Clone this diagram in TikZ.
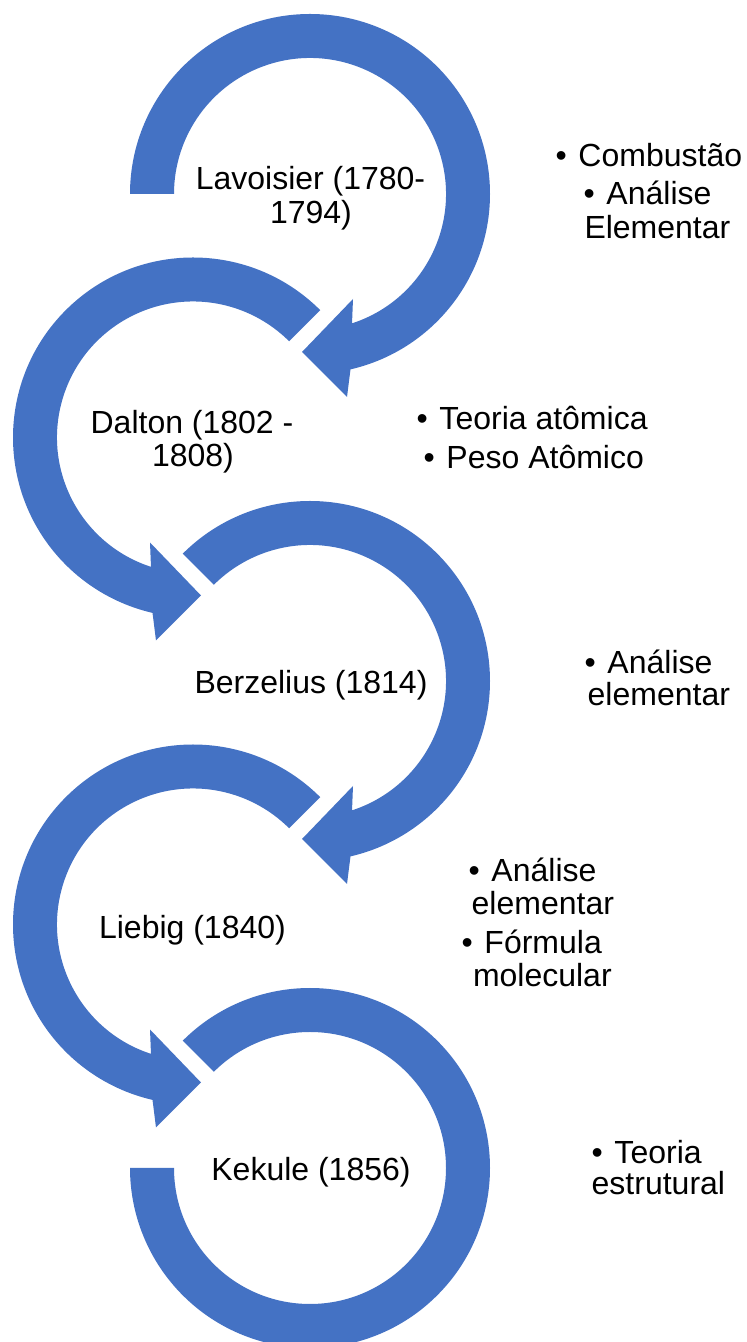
\documentclass[tikz,border=0pt]{standalone}
\usepackage{fontspec}
\setmainfont{Liberation Sans}
\definecolor{arrowblue}{HTML}{4472C4}
\tikzset{
  band/.style={fill=arrowblue, draw=none},
  lbl/.style={inner sep=0pt, outer sep=0pt, anchor=base, yshift=-1.5pt, text=black, font=\fontsize{32}{34}\selectfont},
  side/.style={lbl, anchor=base west},
  pics/loopstart/.style={code={
    \path[band] (#1:180) arc[start angle=#1, end angle=-77, radius=180]
      -- (37,-203) -- (-8,-158) -- (43,-105) -- (-72:136)
      arc[start angle=-72, end angle=#1, radius=136] -- cycle;}},
  pics/loopend/.style={code={
    \path[band] (135:180) arc[start angle=135, end angle=-180, radius=180]
      -- (-180:136) arc[start angle=-180, end angle=135, radius=136] -- cycle;}}
}
\newcommand\bul[1]{\makebox[23pt][l]{•}#1}
\begin{document}
\begin{tikzpicture}[x=1pt,y=1pt]
\useasboundingbox (0,0) rectangle (747,1342);
% circular arrows
\pic at (310,1148) {loopstart=180};
\pic[xscale=-1] at (193,904.5) {loopstart=135};
\pic at (310,661) {loopstart=135};
\pic[xscale=-1] at (193,417.5) {loopstart=135};
\pic at (310,174) {loopend};
% centre labels
\node[lbl] (lav1) at (310.5,1154) {Lavoisier (1780-};
\node[lbl] (lav2) at (311,1120) {1794)};
\node[lbl] (dal1) at (192,910) {Dalton (1802 -};
\node[lbl] (dal2) at (193,877) {1808)};
\node[lbl] (ber) at (311,650) {Berzelius (1814)};
\node[lbl] (lie) at (192.5,405) {Liebig (1840)};
\node[lbl] (kek) at (311,163) {Kekule (1856)};
% side notes
\node[side] (lavA) at (555.5,1177) {\bul{Combustão}};
\node[side] (lavB) at (583.5,1139) {\bul{Análise}};
\node[side] (lavC) at (584.5,1105) {Elementar};
\node[side] (dalA) at (416.5,914) {\bul{Teoria atômica}};
\node[side] (dalB) at (423.5,875) {\bul{Peso Atômico}};
\node[side] (berA) at (584.5,670) {\bul{Análise}};
\node[side] (berB) at (587.7,638) {elementar};
\node[side] (lieA) at (468.5,462) {\bul{Análise}};
\node[side] (lieB) at (471.7,429) {elementar};
\node[side] (lieC) at (461.5,390) {\bul{Fórmula}};
\node[side] (lieD) at (473,357) {molecular};
\node[side] (kekA) at (591.5,180) {\bul{Teoria}};
\node[side] (kekB) at (591.7,149) {estrutural};
\end{tikzpicture}
\end{document}
